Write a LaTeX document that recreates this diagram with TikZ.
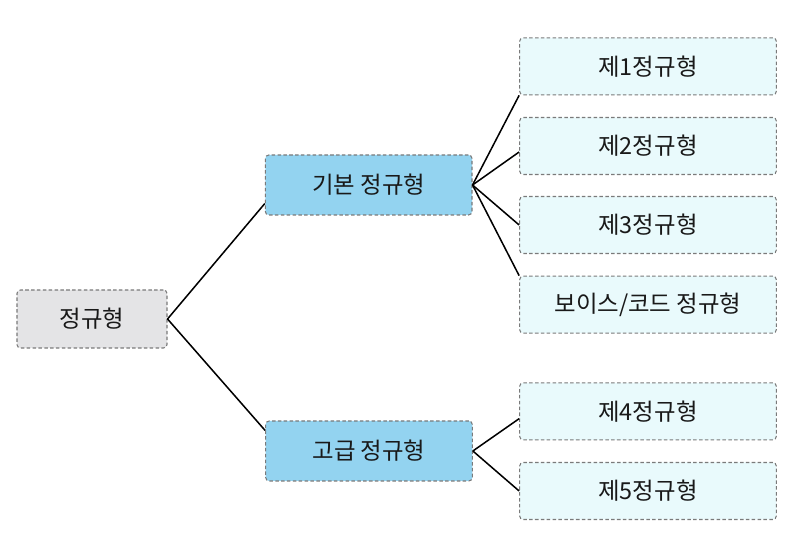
\documentclass[tikz,border=0pt]{standalone}
\usepackage{fontspec}
\setmainfont{Noto Sans CJK KR}
\definecolor{rootfill}{HTML}{E4E4E6}
\definecolor{midfill}{HTML}{93D3F0}
\definecolor{leaffill}{HTML}{E9FAFC}
\definecolor{boxline}{HTML}{7A7A7A}
\begin{document}
\begin{tikzpicture}[thick,
    nfbox/.style={rectangle, rounded corners=3pt, draw=boxline, densely dashed, line width=0.9pt, font=\fontsize{20}{24}\selectfont, text=black!90},
    rootbox/.style={nfbox, fill=rootfill, minimum width=4.5cm, minimum height=1.74cm},
    midbox/.style={nfbox, fill=midfill, minimum width=6.2cm, minimum height=1.8cm},
    leafbox/.style={nfbox, fill=leaffill, minimum width=7.7cm, minimum height=1.71cm},
    link/.style={line width=1.3pt, black}]
          \useasboundingbox (0,0) rectangle (24.3,16.14);
          \node[rootbox] (root) at (2.76,6.57) {정규형};
          \node[midbox] (basic) at (11.06,10.59) {기본 정규형};
          \node[midbox] (advanced) at (11.07,2.61) {고급 정규형};

          \node[leafbox] (nf1) at (19.44,14.15) {제1정규형};
          \node[leafbox] (nf2) at (19.44,11.76) {제2정규형};
          \node[leafbox] (nf3) at (19.44,9.39) {제3정규형};
          \node[leafbox] (bcnf) at (19.44,7.0) {보이스/코드 정규형};
          \node[leafbox] (nf4) at (19.44,3.8) {제4정규형};
          \node[leafbox] (nf5) at (19.44,1.41) {제5정규형};


          \draw[link] (root.east) -- ([yshift=0.36cm]basic.south west);
          \draw[link] (root.east) -- ([yshift=-0.3cm]advanced.north west);
          \draw[link] (basic.east) -- (nf1.south west);
          \draw[link] (basic.east) -- ([yshift=-0.18cm]nf2.west);
          \draw[link] (basic.east) -- (nf3.west);
          \draw[link] (basic.east) -- (bcnf.north west);
          \draw[link] (advanced.east) -- ([yshift=-0.22cm]nf4.west);
          \draw[link] (advanced.east) -- (nf5.west);
        \end{tikzpicture}
\end{document}
